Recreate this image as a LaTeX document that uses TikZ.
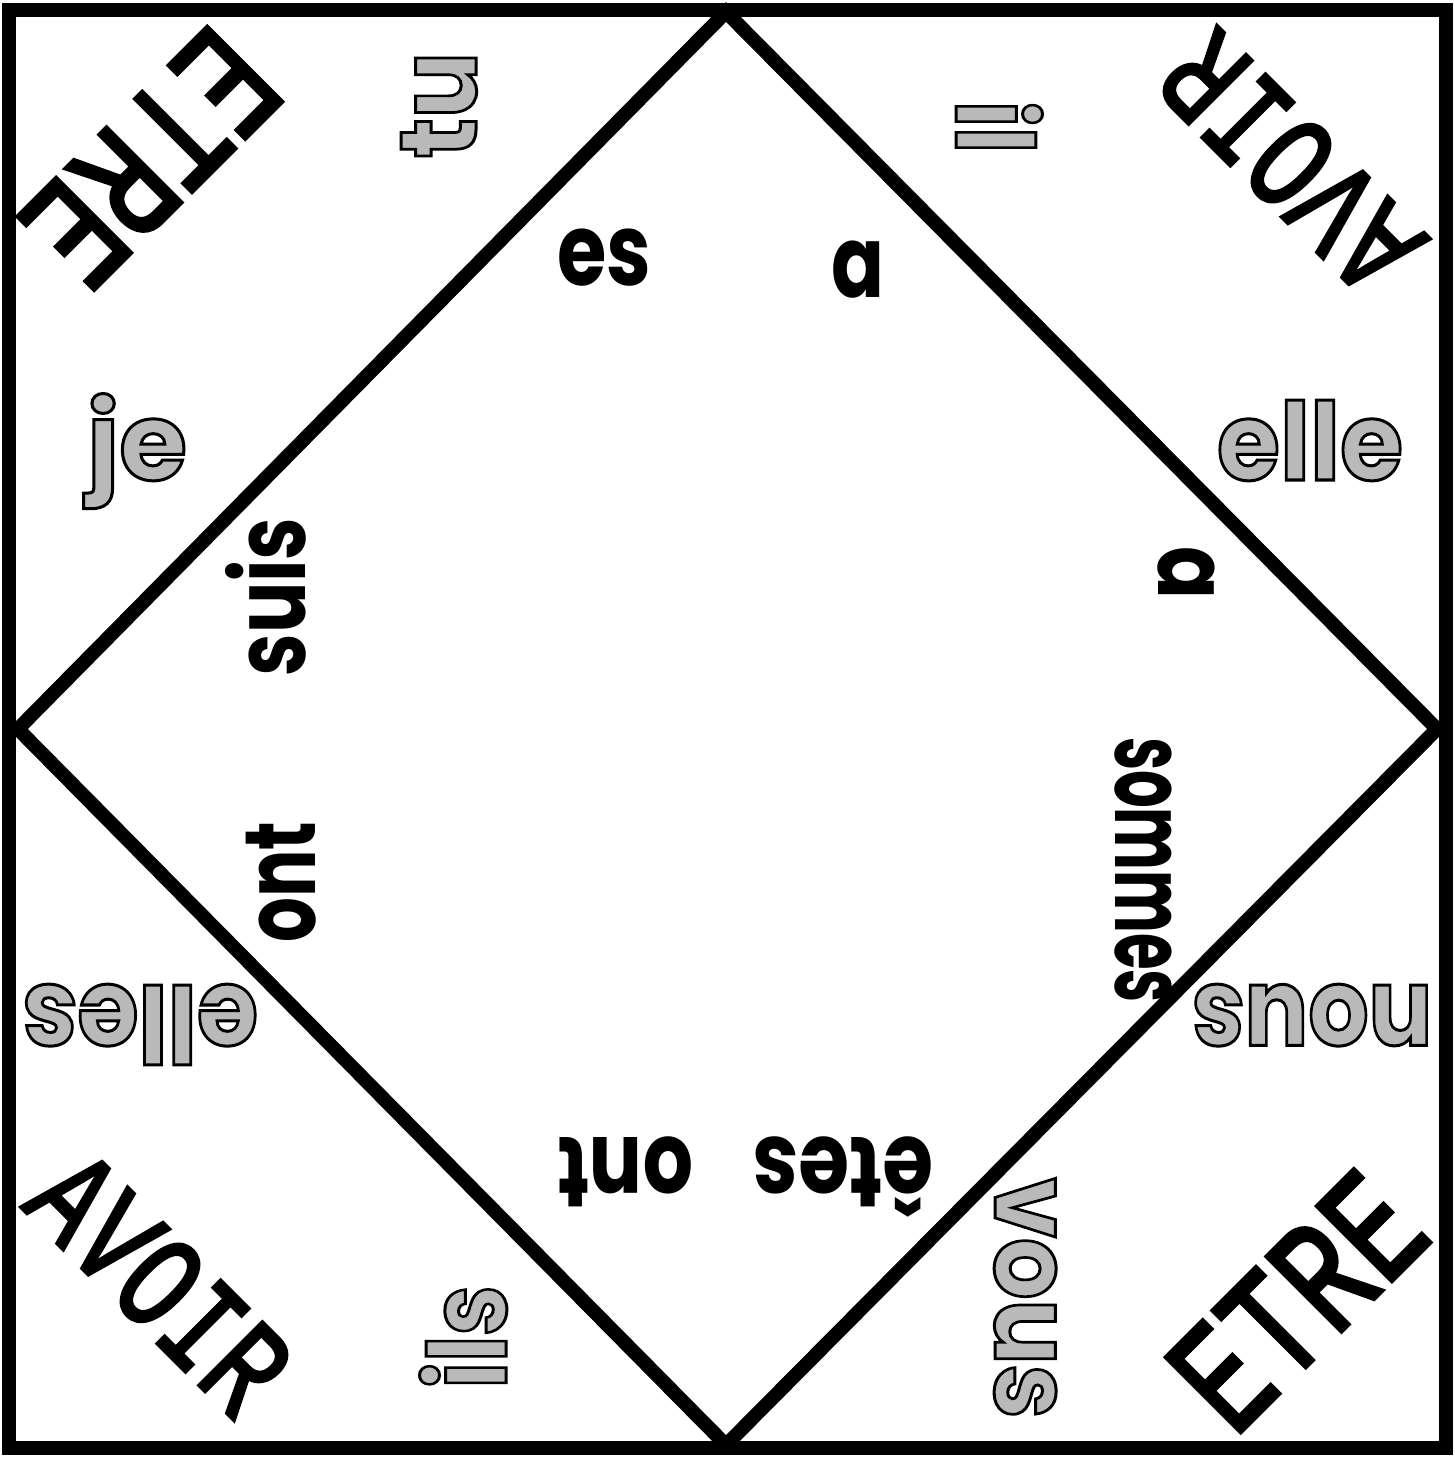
\documentclass[tikz,border=0pt]{standalone}
\usepackage{fontspec}
\usepackage{graphicx}
\setmainfont{Poppins}
\newfontfamily\capsfont{Liberation Mono}
\newcommand\fw[2]{\resizebox{#1pt}{\height}{#2}}
\newcommand\fwh[3]{\resizebox{#1pt}{#2pt}{#3}}
\newcommand\outl[1]{\special{pdf:literal direct 2 Tr 3 w 0 G}#1\special{pdf:literal direct 0 Tr}}
\newcommand\thk[1]{\special{pdf:literal direct 2 Tr 5 w 0 G}#1\special{pdf:literal direct 0 Tr}}
\tikzset{
  frame/.style={line width=14pt, line join=miter},
  conj/.style={anchor=base, inner sep=0pt, font=\fontsize{100}{100}\selectfont\bfseries},
  pron/.style={anchor=base, inner sep=0pt, font=\fontsize{108}{108}\selectfont\bfseries, text=gray!55},
  big/.style={inner sep=0pt, font=\fontsize{190}{190}\selectfont\capsfont},
}
\begin{document}
\begin{tikzpicture}[x=1pt,y=-1pt]
\useasboundingbox (0,0) rectangle (1455,1461);
% outer square
\coordinate (sq1) at (9,10.5);
\coordinate (sq2) at (1446,1447.5);
\draw[frame] (sq1) rectangle (sq2);
% diamond
\coordinate (dT) at (726,12);
\coordinate (dR) at (1437,729);
\coordinate (dB) at (726,1445);
\coordinate (dL) at (18,729);
\draw[frame] (dT) -- (dR) -- (dB) -- (dL) -- cycle;
% corner titles
\node[big, rotate=225] (etreTL) at (151,158) {\fwh{285}{106}{\thk{ETRE}}};
\node[big, rotate=45]  (etreBR) at (1297,1301) {\fwh{285}{106}{\thk{ETRE}}};
\node[big, rotate=135] (avoirTR) at (1291,163) {\fwh{305}{91}{\thk{AVOIR}}};
\node[big, rotate=-45] (avoirBL) at (160,1283) {\fwh{305}{91}{\thk{AVOIR}}};
% pronouns
\node[pron, rotate=90]  (tu)    at (476,105)  {\fw{106}{\outl{tu}}};
\node[pron, rotate=-90] (il)    at (956,127)  {\fw{52}{\outl{il}}};
\node[pron]             (je)    at (137,480)  {\fw{100}{\outl{je}}};
\node[pron]             (elle)  at (1310,480) {\fw{186}{\outl{elle}}};
\node[pron, rotate=180] (elles) at (140,985)  {\fw{236}{\outl{elles}}};
\node[pron, rotate=180] (nous)  at (1312,985) {\fw{241}{\outl{nous}}};
\node[pron, rotate=90]  (ils)   at (506,1337) {\fw{103}{\outl{ils}}};
\node[pron, rotate=-90] (vous)  at (995,1298) {\fw{241}{\outl{vous}}};
% conjugations
\node[conj]             (es)     at (604,285)  {\fw{94}{es}};
\node[conj]             (aTop)   at (858,297)  {\fw{53}{a}};
\node[conj, rotate=90]  (suis)   at (305,597)  {\fw{159}{suis}};
\node[conj, rotate=-90] (aRight) at (1158,573) {\fw{53}{a}};
\node[conj, rotate=-90] (sommes) at (1115,870) {\fw{266}{sommes}};
\node[conj, rotate=90]  (ontL)   at (315,882)  {\fw{121}{ont}};
\node[conj, rotate=180] (etes)   at (843,1137) {\fw{181}{êtes}};
\node[conj, rotate=180] (ontB)   at (625,1137) {\fw{136}{ont}};
\end{tikzpicture}
\end{document}
